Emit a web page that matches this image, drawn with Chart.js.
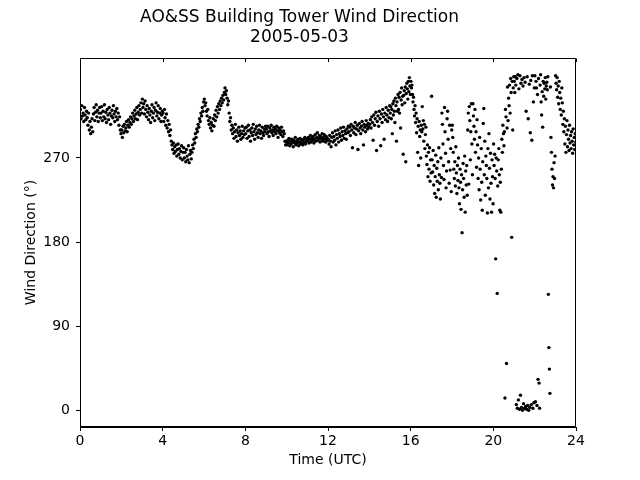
<!DOCTYPE html>
<html>
<head>
<meta charset="utf-8">
<script src="https://cdn.jsdelivr.net/npm/chart.js@4/dist/chart.umd.min.js"></script>
<style>
html,body{margin:0;padding:0;background:#fff;}
#wrap{width:640px;height:480px;}
</style>
</head>
<body>
<div id="wrap"><canvas id="c" width="640" height="480"></canvas></div>
<script>
// Tick labels
const xTicks = [0, 4, 8, 12, 16, 20, 24];
const yTicks = [0, 90, 180, 270];

// Wind direction (degrees), one array per UTC hour, samples evenly spaced through the hour
const d00 = [322,312,326,315,318,309,324,316,311,320,313,305,318,300,309,296,303,312,298,317,324,310,319,327,314,321,309,318,324,313];
const d01 = [318,325,310,320,314,327,312,319,308,322,316,311,324,318,306,315,321,313,326,317,309,320,314,323,311,318,305,314,300,296];
const d02 = [300,292,304,297,306,299,302,309,298,305,311,303,308,314,306,312,318,309,315,321,312,317,324,311,319,326,316,322,329,318];
const d03 = [333,324,328,317,331,322,314,326,319,311,323,316,308,320,327,313,318,324,310,321,329,315,319,326,312,318,323,309,316,320];
const d04 = [318,309,322,313,305,317,302,310,298,306,294,300,288,284,279,286,275,282,277,284,272,279,285,274,280,270,277,283,268,276];
const d05 = [281,270,276,266,279,272,268,283,265,274,278,269,276,284,280,290,286,296,292,301,298,306,303,312,309,318,315,324,320,330];
const d06 = [333,326,329,320,315,322,310,306,313,302,308,299,305,312,304,316,310,321,314,325,318,328,322,331,326,334,329,337,332,340];
const d07 = [345,338,342,334,327,331,318,309,313,300,305,296,302,291,298,306,293,300,288,297,303,294,299,290,296,304,292,299,295,302];
const d08 = [296,303,291,299,305,293,300,288,297,302,294,306,298,290,301,295,304,297,292,300,305,296,299,291,303,297,294,301,298,304];
const d09 = [301,296,304,298,293,302,299,305,297,300,294,303,298,301,296,304,299,292,302,297,300,295,303,298,293,299,296,288,284,287];
const d10 = [284,289,286,291,283,288,285,290,287,282,289,286,292,284,288,286,290,283,287,291,285,289,286,284,290,287,292,285,288,290];
const d11 = [288,292,286,290,294,287,291,289,293,286,290,295,288,292,297,289,291,294,287,293,290,296,288,292,295,290,287,293,291,289];
const d12 = [290,285,294,288,282,292,297,287,293,289,299,284,295,291,300,287,296,293,302,289,298,294,303,291,299,296,290,301,297,304];
const d13 = [298,303,294,306,300,281,304,297,302,308,295,301,305,279,299,307,302,296,304,309,300,284,306,303,298,310,305,301,307,303];
const d14 = [306,311,302,314,308,289,316,305,312,319,278,309,315,304,320,312,283,317,308,322,314,290,318,311,324,316,309,321,313,326];
const d15 = [318,325,312,322,296,328,316,331,320,308,334,326,288,330,320,338,322,335,318,340,302,332,345,327,336,274,337,342,329,346,266,339,350,344,333,352,341,356,347,338];
const d16 = [352,345,348,338,330,335,322,315,326,308,318,297,312,276,304,262,309,293,300,270,305,298,325,301,310,288,306,280,295,303,272,263,284,250,276,258,281,245,268,254];
const d17 = [336,268,255,278,241,262,232,250,273,228,259,245,266,236,281,252,243,226,270,249,318,306,285,262,247,324,298,275,238,256,312,320,290,266,243,305,257,280,234,300];
const d18 = [305,292,276,258,248,266,240,282,254,232,262,246,270,238,221,258,244,215,252,190,236,264,248,228,272,212,256,241,262,230,300,318,242,325,310,268,298,328,285,252];
const d19 = [328,315,304,290,322,276,298,260,311,284,248,270,236,292,258,225,280,244,214,266,307,323,252,288,230,272,262,248,211,280,238,296,259,226,275,243,212,268,250,221];
const d20 = [285,262,274,248,162,270,256,125,240,268,280,252,214,244,212,258,290,276,305,296,283,298,13,322,314,50,302,346,310,334,326,348,318,355,340,185,352,300,345,357];
const d21 = [352,340,357,348,6,355,2,359,11,344,1,358,16,350,3,354,0,347,7,356,2,351,4,320,1,357,5,312,0,349,3,297,353,6,289,358,2,330,8,345];
const d22 = [358,9,352,345,5,338,33,355,29,2,348,359,330,316,341,303,352,336,350,344,356,333,347,351,343,357,124,67,44,18,346,292,276,258,241,250,238,265,248,272];
const d23 = [358,350,343,356,335,347,328,352,340,322,334,316,345,329,306,320,298,312,285,304,276,295,310,282,300,290,278,305,286,294,280,298,288,275,301,284,292,279,296,287];

const hourly = [d00,d01,d02,d03,d04,d05,d06,d07,d08,d09,d10,d11,d12,d13,d14,d15,d16,d17,d18,d19,d20,d21,d22,d23];
const points = [];
hourly.forEach((arr, h) => {
  arr.forEach((v, i) => points.push({x: h + (i + 0.5) / arr.length, y: v}));
});

const FONT = "'DejaVu Sans', sans-serif";

const framePlugin = {
  id: 'frame',
  afterDraw(chart) {
    const {ctx, chartArea: a, scales} = chart;
    ctx.save();
    ctx.strokeStyle = '#000';
    ctx.lineWidth = 1;
    const l = Math.round(a.left) + 0.5, r = Math.round(a.right) - 0.5;
    const t = Math.round(a.top) + 0.5, b = Math.round(a.bottom) - 0.5;
    ctx.beginPath();
    ctx.moveTo(l, t); ctx.lineTo(r, t); ctx.lineTo(r, b); ctx.lineTo(l, b); ctx.closePath();
    ctx.stroke();
    ctx.beginPath();
    xTicks.forEach(v => {
      const px = Math.round(scales.x.getPixelForValue(v)) + 0.5;
      ctx.moveTo(px, t); ctx.lineTo(px, t + 3.5);
    });
    ctx.stroke();
    ctx.restore();
  }
};

new Chart(document.getElementById('c'), {
  type: 'scatter',
  data: {
    datasets: [{
      data: points,
      pointRadius: 1.7,
      pointHoverRadius: 1.7,
      pointBorderWidth: 0,
      pointBackgroundColor: '#000',
      borderColor: '#000',
      showLine: false
    }]
  },
  options: {
    responsive: false,
    animation: false,
    events: [],
    layout: {padding: {left: 23, right: 64, top: 0, bottom: 11}},
    plugins: {
      legend: {display: false},
      tooltip: {enabled: false},
      title: {
        display: true,
        text: ['AO&SS Building Tower Wind Direction', '2005-05-03'],
        color: '#000',
        font: {family: FONT, size: 17, weight: 'normal', lineHeight: 20 / 17},
        padding: {top: 8, bottom: 10}
      }
    },
    scales: {
      x: {
        type: 'linear',
        min: 0, max: 24,
        afterBuildTicks: s => { s.ticks = xTicks.map(v => ({value: v})); },
        afterFit: s => { s.height = 42; },
        ticks: {color: '#000', font: {family: FONT, size: 14}, padding: 2, maxRotation: 0, autoSkip: false},
        grid: {display: true, drawOnChartArea: false, drawTicks: true, tickLength: 4, color: '#000'},
        border: {display: true, color: '#000', width: 1},
        title: {display: true, text: 'Time (UTC)', color: '#000', font: {family: FONT, size: 14}, padding: 0}
      },
      y: {
        type: 'linear',
        min: -18, max: 377,
        afterBuildTicks: s => { s.ticks = yTicks.map(v => ({value: v})); },
        afterFit: s => { s.width = 57; },
        ticks: {color: '#000', font: {family: FONT, size: 14}, padding: 6, autoSkip: false},
        grid: {display: true, drawOnChartArea: false, drawTicks: true, tickLength: 4, color: '#000'},
        border: {display: true, color: '#000', width: 1},
        title: {display: true, text: 'Wind Direction (°)', color: '#000', font: {family: FONT, size: 14}, padding: 0}
      }
    }
  },
  plugins: [framePlugin]
});
</script>
</body>
</html>
